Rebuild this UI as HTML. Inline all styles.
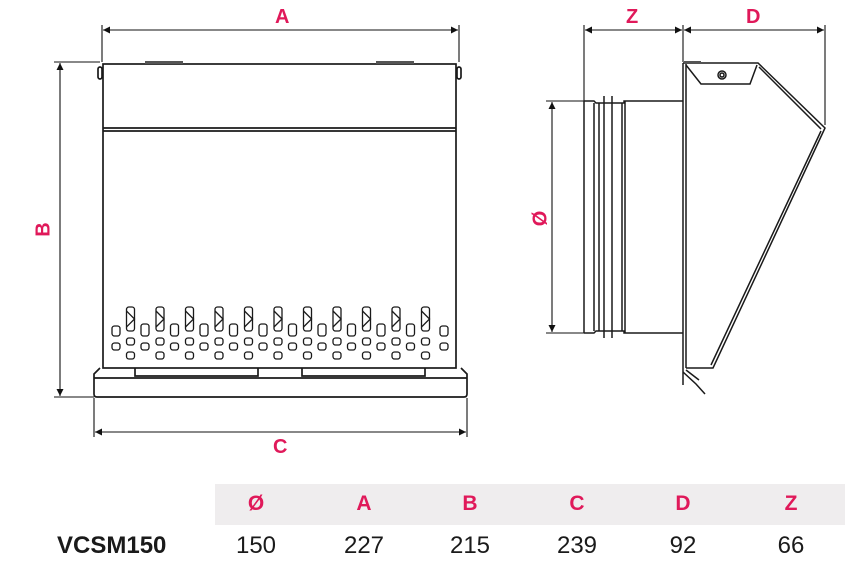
<!DOCTYPE html>
<html><head><meta charset="utf-8"><style>
html,body{margin:0;padding:0;background:#fff;}
body{width:861px;height:573px;overflow:hidden;position:relative;font-family:"Liberation Sans",sans-serif;}
.l{position:absolute;font-weight:bold;color:#e0195a;font-size:20px;}
.h{position:absolute;top:492px;font-weight:bold;color:#e0195a;font-size:21px;width:60px;text-align:center;}
.v{position:absolute;top:532px;color:#1a1a1a;font-size:24px;width:80px;text-align:center;font-family:"Liberation Sans Narrow","Liberation Sans",sans-serif;}
</style></head><body>
<svg width="861" height="573" style="position:absolute;left:0;top:0" xmlns="http://www.w3.org/2000/svg">
<defs>
<marker id="ar" viewBox="0 0 10 10" refX="10" refY="5" markerWidth="12" markerHeight="7" orient="auto-start-reverse" markerUnits="userSpaceOnUse"><path d="M0,0L10,5L0,10z" fill="#111"/></marker>
</defs>
<g stroke="#111" stroke-width="1.1" fill="none">
<line x1="102" y1="25" x2="102" y2="62"/><line x1="459" y1="25" x2="459" y2="62"/>
<line x1="103" y1="30" x2="458" y2="30" marker-start="url(#ar)" marker-end="url(#ar)"/>
<line x1="54" y1="62" x2="100" y2="62"/><line x1="54" y1="397" x2="94" y2="397"/>
<line x1="60" y1="63" x2="60" y2="396" marker-start="url(#ar)" marker-end="url(#ar)"/>
<line x1="94" y1="398" x2="94" y2="437"/><line x1="467" y1="398" x2="467" y2="437"/>
<line x1="95" y1="432" x2="466" y2="432" marker-start="url(#ar)" marker-end="url(#ar)"/>
</g>
<g stroke="#1a1a1a" stroke-width="1.7" fill="none">
<rect x="103" y="64" width="353" height="304"/>
<line x1="103" y1="128" x2="456" y2="128"/><line x1="103" y1="131" x2="456" y2="131"/>
<path d="M100,368 L94,374 L94,394 Q94,397 97,397 L464,397 Q467,397 467,394 L467,374 L461,368"/>
<line x1="94" y1="378" x2="467" y2="378"/>
<path d="M135,368 V376 H258 V368 M302,368 V376 H425 V368"/>
<rect x="98" y="67" width="4" height="12" rx="2"/><rect x="457" y="67" width="4" height="12" rx="2"/>
</g>
<rect x="145" y="61" width="38" height="3" fill="#555"/><rect x="376" y="61" width="38" height="3" fill="#555"/>
<g id="slots" stroke="#1a1a1a" stroke-width="1.3" fill="#fff"></g>
<g stroke="#111" stroke-width="1.1" fill="none">
<line x1="584" y1="25" x2="584" y2="101"/><line x1="683" y1="25" x2="683" y2="62"/><line x1="825" y1="25" x2="825" y2="125"/>
<line x1="585" y1="30" x2="682" y2="30" marker-start="url(#ar)" marker-end="url(#ar)"/>
<line x1="684" y1="30" x2="824" y2="30" marker-start="url(#ar)" marker-end="url(#ar)"/>
<line x1="546" y1="101" x2="584" y2="101"/><line x1="546" y1="333" x2="584" y2="333"/>
<line x1="552" y1="102" x2="552" y2="332" marker-start="url(#ar)" marker-end="url(#ar)"/>
</g>
<g stroke="#1a1a1a" stroke-width="1.5" fill="none">
<path d="M584,101 L594,101 L596,103 L624,103 L624,101 L683,101"/>
<path d="M584,333 L594,333 L596,331 L624,331 L624,333 L683,333"/>
<line x1="584" y1="101" x2="584" y2="333"/>
<line x1="594" y1="103" x2="594" y2="331"/><line x1="599" y1="103" x2="599" y2="331"/>
<line x1="604" y1="96" x2="604" y2="338"/><line x1="612" y1="96" x2="612" y2="338"/>
<line x1="622" y1="103" x2="622" y2="331"/><line x1="625" y1="101" x2="625" y2="333"/>
<path d="M683,63 L683,385"/><path d="M686,63 L686,368"/>
<path d="M683,63 L758,63 L825,128 L713,368 L686,368"/>
<path d="M759,67 L821,129 M821,131 L711,365"/>
<path d="M686,65 L701,84 L750,84 L757,65"/>
<path d="M683,372 L696,384 L705,394 M686,370 L699,380"/>
<circle cx="722" cy="75" r="4"/><circle cx="722" cy="75" r="2"/>
</g>
<rect x="684" y="61" width="17" height="3" fill="#555"/>
</svg>
<div class="l" style="left:275px;top:6px">A</div>
<div class="l" style="left:37px;top:218px;transform:rotate(-90deg)">B</div>
<div class="l" style="left:273px;top:436px">C</div>
<div class="l" style="left:626px;top:6px">Z</div>
<div class="l" style="left:746px;top:6px">D</div>
<div class="l" style="left:533px;top:207px;transform:rotate(-90deg)">Ø</div>
<div style="position:absolute;left:215px;top:484px;width:630px;height:41px;background:#efedee"></div>
<div class="h" style="left:226px">Ø</div>
<div class="h" style="left:334px">A</div>
<div class="h" style="left:440px">B</div>
<div class="h" style="left:547px">C</div>
<div class="h" style="left:653px">D</div>
<div class="h" style="left:761px">Z</div>
<div style="position:absolute;left:57px;top:532px;font-size:24px;font-weight:bold;color:#1a1a1a">VCSM150</div>
<div class="v" style="left:216px">150</div>
<div class="v" style="left:324px">227</div>
<div class="v" style="left:430px">215</div>
<div class="v" style="left:537px">239</div>
<div class="v" style="left:643px">92</div>
<div class="v" style="left:751px">66</div>
<script>
var g=document.getElementById('slots'),s='';
function r(x,y,w,h){s+='<rect x="'+x+'" y="'+y+'" width="'+w+'" height="'+h+'" rx="2.5"/>';}
r(112,326,8,10);r(112,343,8,7);r(440,326,8,10);r(440,343,8,7);
for(var k=0;k<11;k++){var x=126.5+29.5*k;r(x,307,8,24);r(x,338,8,7);r(x,352,8,7);
s+='<path d="M'+x+','+(311)+'L'+(x+8)+','+(319)+'L'+x+','+(327)+'" fill="none"/>';}
for(var k=0;k<10;k++){var x=141+29.5*k;r(x,324,8,12);r(x,343,8,7);}
g.innerHTML=s;
</script>
</body></html>
